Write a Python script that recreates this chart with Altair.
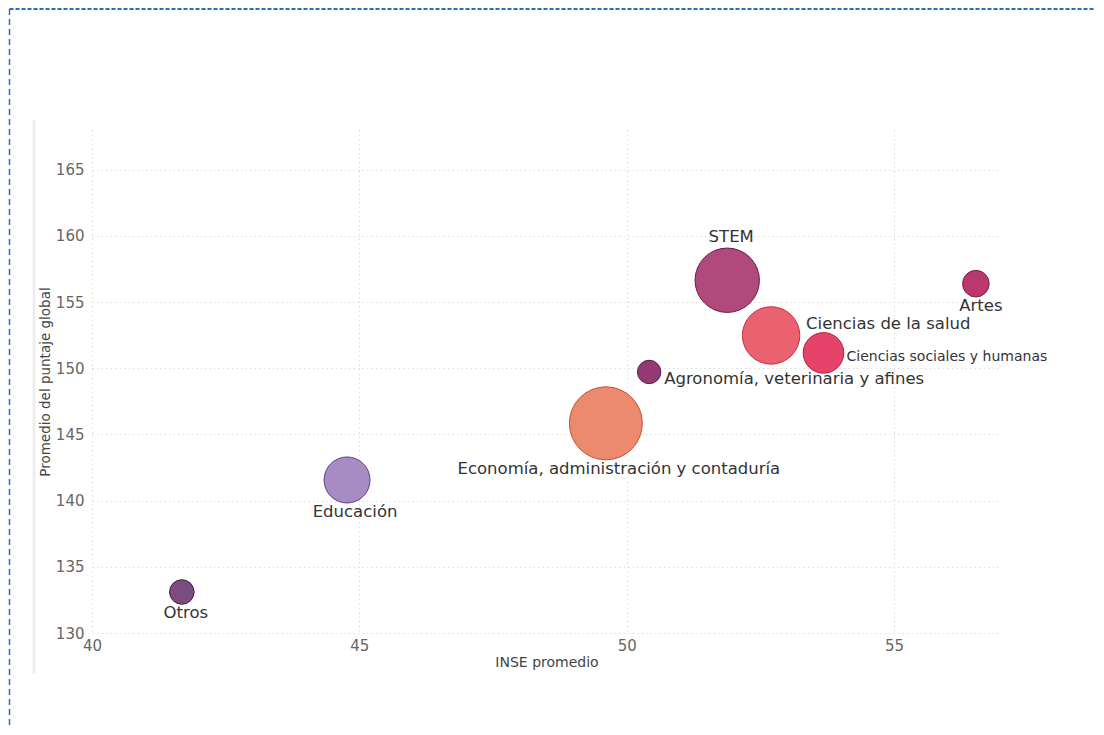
import altair as alt
import pandas as pd

# ---- data ----
areas = [
    "STEM",
    "Ciencias de la salud",
    "Ciencias sociales y humanas",
    "Artes",
    "Agronomía, veterinaria y afines",
    "Economía, administración y contaduría",
    "Educación",
    "Otros",
]
inse = [51.88, 52.70, 53.68, 56.53, 50.42, 49.61, 44.77, 41.68]
puntaje = [156.65, 152.48, 151.16, 156.39, 149.72, 145.84, 141.56, 133.10]
tamano = [1037, 824, 412, 177, 137, 1332, 529, 151]

x_ticks = [40, 45, 50, 55]
y_ticks = [130, 135, 140, 145, 150, 155, 160, 165]

fills = ["#b04a7b", "#ea6170", "#e6436a", "#ba386e", "#923a72", "#ec8a70", "#a78bc3", "#7d4b80"]
strokes = ["#6e1c48", "#c4303e", "#b5203f", "#7d1c46", "#5a1c48", "#c2502e", "#5d3f84", "#3f1f42"]

df = pd.DataFrame({"area": areas, "inse": inse, "puntaje": puntaje, "tamano": tamano})

FONT = "DejaVu Sans"
W, H = 909, 503

x_enc = alt.X("inse:Q", title="INSE promedio",
              scale=alt.Scale(domain=[40, 57], nice=False, zero=False),
              axis=alt.Axis(values=x_ticks, grid=True, domain=False, ticks=False, labelFlush=False,
                            labelFontSize=15, labelColor="#666666", labelPadding=5,
                            labelFont=FONT, titleFont=FONT, titleFontSize=14,
                            titleFontWeight="normal", titleColor="#444444", titlePadding=2,
                            gridColor="#dddddd", gridDash=[1.5, 3], gridWidth=1))
y_enc = alt.Y("puntaje:Q", title="Promedio del puntaje global",
              scale=alt.Scale(domain=[130, 168], nice=False, zero=False),
              axis=alt.Axis(values=y_ticks, grid=True, domain=False, ticks=False, labelFlush=False,
                            labelFontSize=15, labelColor="#666666", labelPadding=8,
                            labelFont=FONT, titleFont=FONT, titleFontSize=13.5,
                            titleFontWeight="normal", titleColor="#444444", titlePadding=3,
                            gridColor="#dddddd", gridDash=[1.5, 3], gridWidth=1))

base = alt.Chart(df)

bubbles = base.mark_circle(opacity=1, strokeWidth=1, strokeOpacity=1).encode(
    x=x_enc,
    y=y_enc,
    size=alt.Size("tamano:Q", scale=alt.Scale(type="linear", domain=[0, 1400], range=[0, 5600], zero=True), legend=None),
    fill=alt.Fill("area:N", scale=alt.Scale(domain=areas, range=fills), legend=None),
    stroke=alt.Stroke("area:N", scale=alt.Scale(domain=areas, range=strokes), legend=None),
)

# label placement (styling, kept apart from data)
label_style = {
    "STEM": dict(align="center", dx=4, dy=-43, fontSize=16.5),
    "Ciencias de la salud": dict(align="left", dx=35, dy=-11, fontSize=16.5),
    "Ciencias sociales y humanas": dict(align="left", dx=23, dy=4, fontSize=14),
    "Artes": dict(align="center", dx=5, dy=22, fontSize=16.5),
    "Agronomía, veterinaria y afines": dict(align="left", dx=15, dy=7, fontSize=16.5),
    "Economía, administración y contaduría": dict(align="center", dx=13, dy=46, fontSize=16.5),
    "Educación": dict(align="center", dx=8, dy=32, fontSize=16.5),
    "Otros": dict(align="center", dx=4, dy=21, fontSize=16.5),
}

labels = []
for name, st in label_style.items():
    labels.append(
        base.transform_filter(alt.datum.area == name).mark_text(
            baseline="middle", font=FONT, color="#333333", **st
        ).encode(x="inse:Q", y="puntaje:Q", text="area:N")
    )

# decorative frame (dashed blue) and light shadow line
top_border = alt.Chart(df.head(1)).mark_rule(color="#2a6fba", strokeWidth=2, strokeDash=[4, 2]).encode(
    x=alt.value(-82.5), x2=alt.value(1002), y=alt.value(-121))
left_border = alt.Chart(df.head(1)).mark_rule(color="#2a6fba", strokeWidth=1.5, strokeDash=[6, 4]).encode(
    x=alt.value(-82.5), y=alt.value(-121), y2=alt.value(596))
shadow = alt.Chart(df.head(1)).mark_rule(color="#eeeeee", strokeWidth=3).encode(
    x=alt.value(-58), y=alt.value(-10), y2=alt.value(543))

chart = alt.layer(top_border, left_border, shadow, bubbles, *labels).properties(
    width=W, height=H, padding=0
).configure_view(stroke=None)

chart.save("out.html", embed_options={"renderer": "svg", "actions": False})
